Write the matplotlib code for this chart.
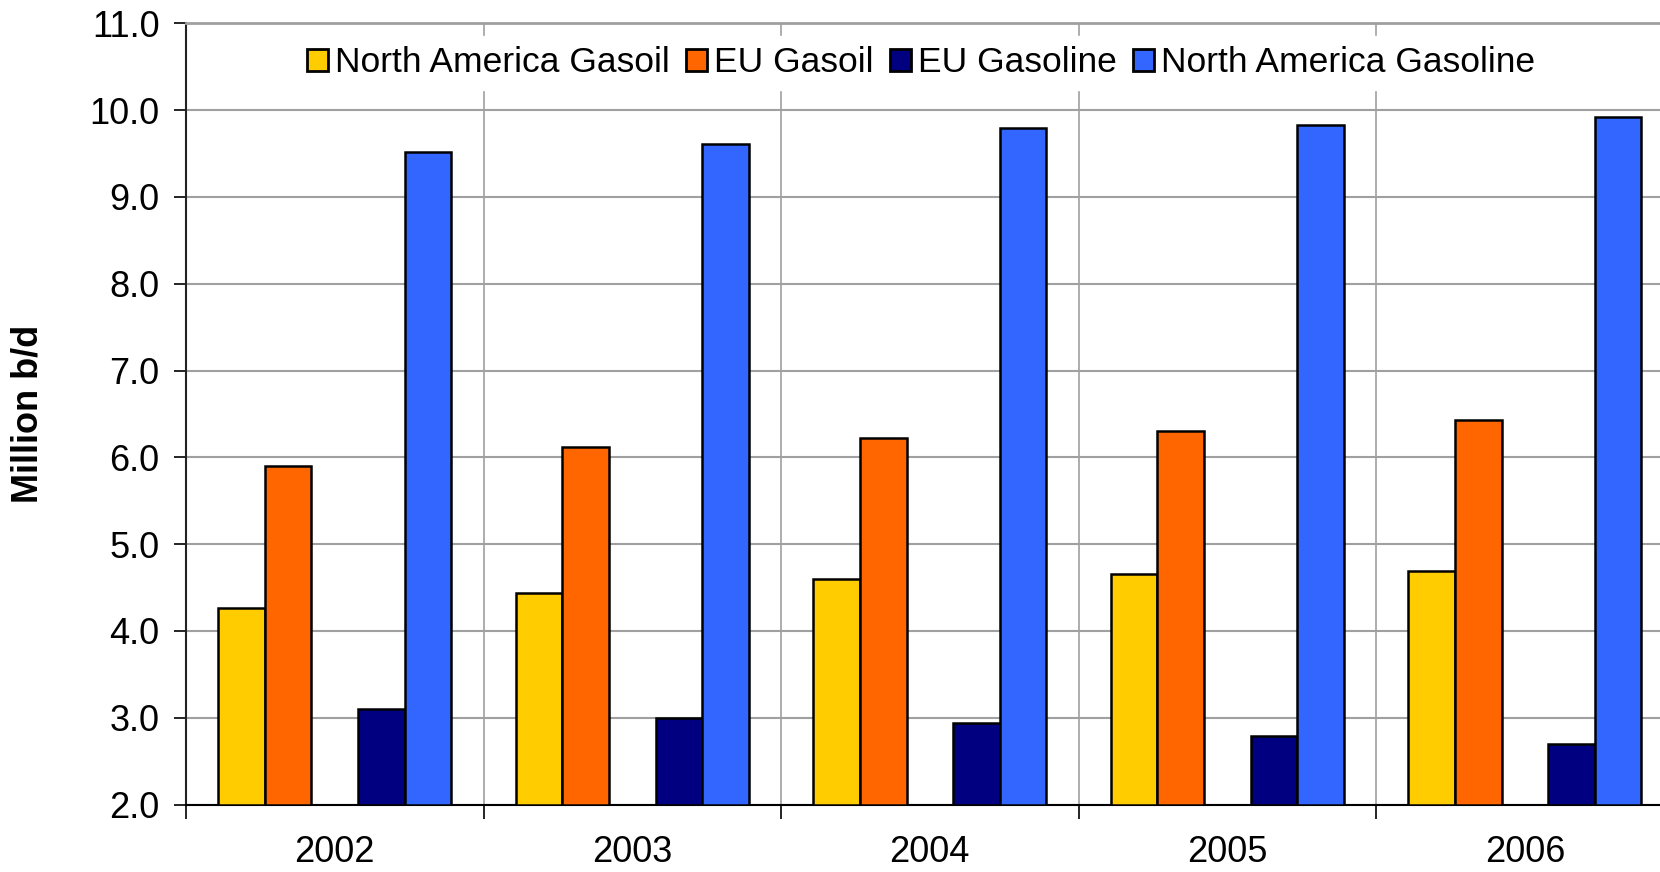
import matplotlib
matplotlib.use("Agg")
import matplotlib.pyplot as plt
import numpy as np
from matplotlib.ticker import MultipleLocator, FixedLocator, FuncFormatter

plt.rcParams['font.family'] = ['Liberation Sans', 'DejaVu Sans']

years = ["2002", "2003", "2004", "2005", "2006"]
series_names = ["North America Gasoil", "EU Gasoil", "EU Gasoline", "North America Gasoline"]
na_gasoil = [4.26, 4.44, 4.60, 4.66, 4.69]
eu_gasoil = [5.90, 6.12, 6.22, 6.30, 6.43]
eu_gasoline = [3.10, 3.00, 2.94, 2.79, 2.70]
na_gasoline = [9.52, 9.61, 9.79, 9.83, 9.92]
colors = ["#FFCC00", "#FF6600", "#000080", "#3366FF"]

fig = plt.figure(figsize=(16.6, 8.72), dpi=100)
ax_w = 1487.6
ax = fig.add_axes([186/1660, 1 - 804.6/872, ax_w/1660, (804.6 - 23.3)/872])

x = np.arange(len(years))
w = 0.1566
offsets = [-2, -1, 1, 2]
data = [na_gasoil, eu_gasoil, eu_gasoline, na_gasoline]
for vals, off, col, name in zip(data, offsets, colors, series_names):
    ax.bar(x + off * w, np.array(vals) - 2.0, width=w, bottom=2.0, color=col,
           edgecolor="black", linewidth=1.8, label=name, zorder=3)

ax.set_ylim(2.0, 11.0)
ax.set_xlim(-0.5, len(years) - 0.5)
ax.yaxis.set_major_locator(MultipleLocator(1.0))
ax.yaxis.set_major_formatter(FuncFormatter(lambda v, p: f"{v:.1f}"))

ax.set_xticks(x)
ax.set_xticklabels(years)
ax.xaxis.set_minor_locator(FixedLocator(np.arange(-0.5, len(years), 1.0)))
ax.tick_params(axis='x', which='major', length=0, labelsize=26, pad=22)
ax.tick_params(axis='x', which='minor', length=10, width=1.2, color='black', direction='out')
ax.tick_params(axis='y', which='major', length=9, width=1.2, labelsize=26, pad=10, color='black')

ax.grid(axis='y', which='major', color='#a0a0a0', linewidth=1.5, zorder=0)
ax.grid(axis='x', which='minor', color='#a0a0a0', linewidth=1.2, zorder=0)
ax.set_axisbelow(True)

ax.spines['top'].set_color('#a0a0a0')
ax.spines['top'].set_linewidth(2)
ax.spines['right'].set_visible(False)
ax.spines['left'].set_color('#222222')
ax.spines['left'].set_linewidth(1.5)
ax.spines['bottom'].set_color('black')
ax.spines['bottom'].set_linewidth(1.5)

ax.set_ylabel("Million b/d", fontsize=26, fontweight='bold')
ax.yaxis.set_label_coords((46 - 186)/ax_w, 0.5)

leg = ax.legend(loc='center', bbox_to_anchor=(921/1660, 1 - 63/872),
                bbox_transform=fig.transFigure, ncol=4, fontsize=25.5,
                frameon=True, fancybox=False, handlelength=0.6, handleheight=0.6,
                handletextpad=0.2, columnspacing=0.45, borderpad=0.3)
leg.get_frame().set_facecolor('white')
leg.get_frame().set_edgecolor('white')
leg.get_frame().set_alpha(1.0)
leg.set_zorder(5)
for h in leg.legend_handles:
    h.set_linewidth(2.0)

fig.savefig("out.png", dpi=100, facecolor='white')
